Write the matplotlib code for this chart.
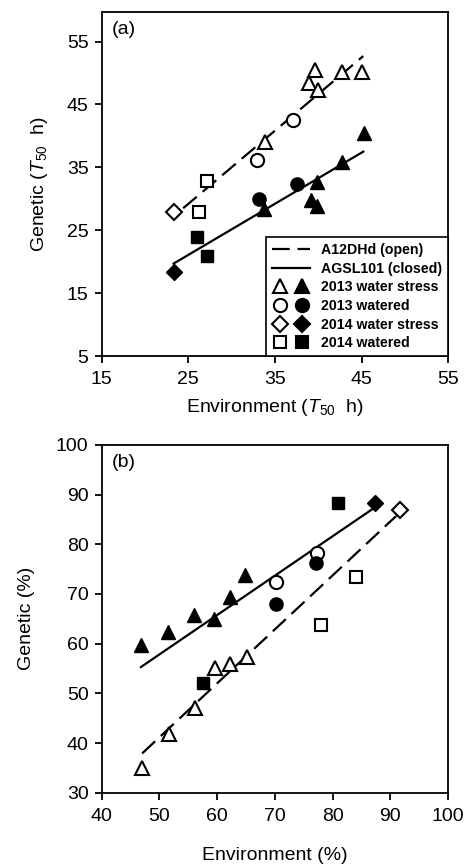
import matplotlib.pyplot as plt
from matplotlib.lines import Line2D
from matplotlib.legend_handler import HandlerTuple

plt.rcParams['font.family'] = ['Liberation Sans', 'DejaVu Sans']
plt.rcParams['mathtext.fontset'] = 'custom'
plt.rcParams['mathtext.it'] = 'Liberation Sans:italic'
plt.rcParams['mathtext.rm'] = 'Liberation Sans'

# ---- panel (a): T50 (h) ----
a_open_tri_x = [39.6, 38.9, 40.0, 42.8, 45.0, 33.8]
a_open_tri_y = [50.5, 48.4, 47.3, 50.2, 50.1, 39.1]
a_open_cir_x = [37.1, 32.9]
a_open_cir_y = [42.6, 36.1]
a_open_dia_x = [23.3]
a_open_dia_y = [27.9]
a_open_sq_x = [27.1, 26.2]
a_open_sq_y = [32.8, 27.9]
a_fill_tri_x = [45.3, 42.7, 39.9, 39.2, 39.8, 33.7]
a_fill_tri_y = [40.5, 35.9, 32.6, 29.8, 28.9, 28.3]
a_fill_cir_x = [33.2, 37.6]
a_fill_cir_y = [30.0, 32.4]
a_fill_dia_x = [23.3]
a_fill_dia_y = [18.4]
a_fill_sq_x = [26.0, 27.1]
a_fill_sq_y = [24.0, 20.9]
a_dash_x = [24.4, 45.2]
a_dash_y = [28.5, 52.7]
a_solid_x = [23.3, 45.2]
a_solid_y = [19.7, 37.5]

# ---- panel (b): percent ----
b_open_tri_x = [47.0, 51.6, 56.1, 59.6, 62.2, 65.1]
b_open_tri_y = [34.9, 41.9, 47.1, 55.1, 56.0, 57.3]
b_open_cir_x = [70.1, 77.2]
b_open_cir_y = [72.5, 78.3]
b_open_dia_x = [91.6]
b_open_dia_y = [86.9]
b_open_sq_x = [84.1, 78.0]
b_open_sq_y = [73.5, 63.7]
b_fill_tri_x = [46.8, 51.5, 56.0, 59.4, 62.2, 64.9]
b_fill_tri_y = [59.7, 62.3, 65.7, 65.0, 69.3, 73.9]
b_fill_cir_x = [70.1, 77.1]
b_fill_cir_y = [68.0, 76.2]
b_fill_dia_x = [87.4]
b_fill_dia_y = [88.3]
b_fill_sq_x = [80.9, 57.5]
b_fill_sq_y = [88.3, 52.0]
b_dash_x = [47.0, 91.0]
b_dash_y = [37.9, 85.7]
b_solid_x = [46.8, 87.4]
b_solid_y = [55.3, 87.5]

DASH = (8, 3.5)
MS = {'^': 10, 'o': 9.5, 'D': 8, 's': 9}


def draw_panel(ax, d, label):
    # dashed / solid regression lines
    ax.plot(d['dash'][0], d['dash'][1], color='black', lw=1.6, dashes=DASH, zorder=2)
    ax.plot(d['solid'][0], d['solid'][1], color='black', lw=1.6, zorder=2)
    for m, key in [('^', 'tri'), ('o', 'cir'), ('D', 'dia'), ('s', 'sq')]:
        ox, oy = d['open_' + key]
        fx, fy = d['fill_' + key]
        ax.plot(ox, oy, m, ms=MS[m], mfc='white', mec='black', mew=1.5, ls='none', zorder=3)
        ax.plot(fx, fy, m, ms=MS[m], mfc='black', mec='black', mew=1.0, ls='none', zorder=3)
    ax.text(0.03, 0.975, label, transform=ax.transAxes, ha='left', va='top', fontsize=14)
    for s in ax.spines.values():
        s.set_linewidth(1.3)
    ax.tick_params(direction='out', length=5, width=1.3, labelsize=14, top=False, right=False)
    ax.tick_params(axis='x', pad=6)
    ax.tick_params(axis='y', pad=4.5)


fig = plt.figure(figsize=(4.72, 8.65), dpi=100)
ax1 = fig.add_axes([0.2155, 0.5884, 0.734, 0.3977])
ax2 = fig.add_axes([0.2155, 0.0836, 0.734, 0.402])

da = {'dash': (a_dash_x, a_dash_y), 'solid': (a_solid_x, a_solid_y),
      'open_tri': (a_open_tri_x, a_open_tri_y), 'fill_tri': (a_fill_tri_x, a_fill_tri_y),
      'open_cir': (a_open_cir_x, a_open_cir_y), 'fill_cir': (a_fill_cir_x, a_fill_cir_y),
      'open_dia': (a_open_dia_x, a_open_dia_y), 'fill_dia': (a_fill_dia_x, a_fill_dia_y),
      'open_sq': (a_open_sq_x, a_open_sq_y), 'fill_sq': (a_fill_sq_x, a_fill_sq_y)}
db = {'dash': (b_dash_x, b_dash_y), 'solid': (b_solid_x, b_solid_y),
      'open_tri': (b_open_tri_x, b_open_tri_y), 'fill_tri': (b_fill_tri_x, b_fill_tri_y),
      'open_cir': (b_open_cir_x, b_open_cir_y), 'fill_cir': (b_fill_cir_x, b_fill_cir_y),
      'open_dia': (b_open_dia_x, b_open_dia_y), 'fill_dia': (b_fill_dia_x, b_fill_dia_y),
      'open_sq': (b_open_sq_x, b_open_sq_y), 'fill_sq': (b_fill_sq_x, b_fill_sq_y)}

draw_panel(ax1, da, '(a)')
ax1.set_xlim(15, 55)
ax1.set_ylim(5, 59.7)
ax1.set_xticks([15, 25, 35, 45, 55])
ax1.set_yticks([5, 15, 25, 35, 45, 55])
ax1.set_xlabel('Environment ($T_{50}$  h)', fontsize=14, labelpad=6)
ax1.set_ylabel('Genetic ($T_{50}$  h)', fontsize=14, labelpad=12)

draw_panel(ax2, db, '(b)')
ax2.set_xlim(40, 100)
ax2.set_ylim(30, 100)
ax2.set_xticks(range(40, 101, 10))
ax2.set_yticks(range(30, 101, 10))
ax2.set_xlabel('Environment (%)', fontsize=14, labelpad=16)
ax2.set_ylabel('Genetic (%)', fontsize=14, labelpad=15)

# legend for panel (a)
def mk(m, filled):
    return Line2D([], [], marker=m, ms=MS[m], ls='none',
                  mfc='black' if filled else 'white', mec='black', mew=1.5)

handles = [Line2D([], [], color='black', lw=1.6, dashes=DASH),
           Line2D([], [], color='black', lw=1.6)]
for m in ['^', 'o', 'D', 's']:
    handles.append((mk(m, False), mk(m, True)))
labels = ['A12DHd (open)', 'AGSL101 (closed)', '2013 water stress',
          '2013 watered', '2014 water stress', '2014 watered']
leg = ax1.legend(handles, labels, loc='lower right', borderaxespad=0,
                 handler_map={tuple: HandlerTuple(ndivide=None, pad=0.5)},
                 prop={'weight': 'bold', 'size': 10.2}, handlelength=2.7,
                 handletextpad=0.8, labelspacing=0.33, fancybox=False,
                 edgecolor='black', framealpha=1, borderpad=0.4)
leg.get_frame().set_linewidth(1.2)

fig.savefig('out.png', dpi=100)
